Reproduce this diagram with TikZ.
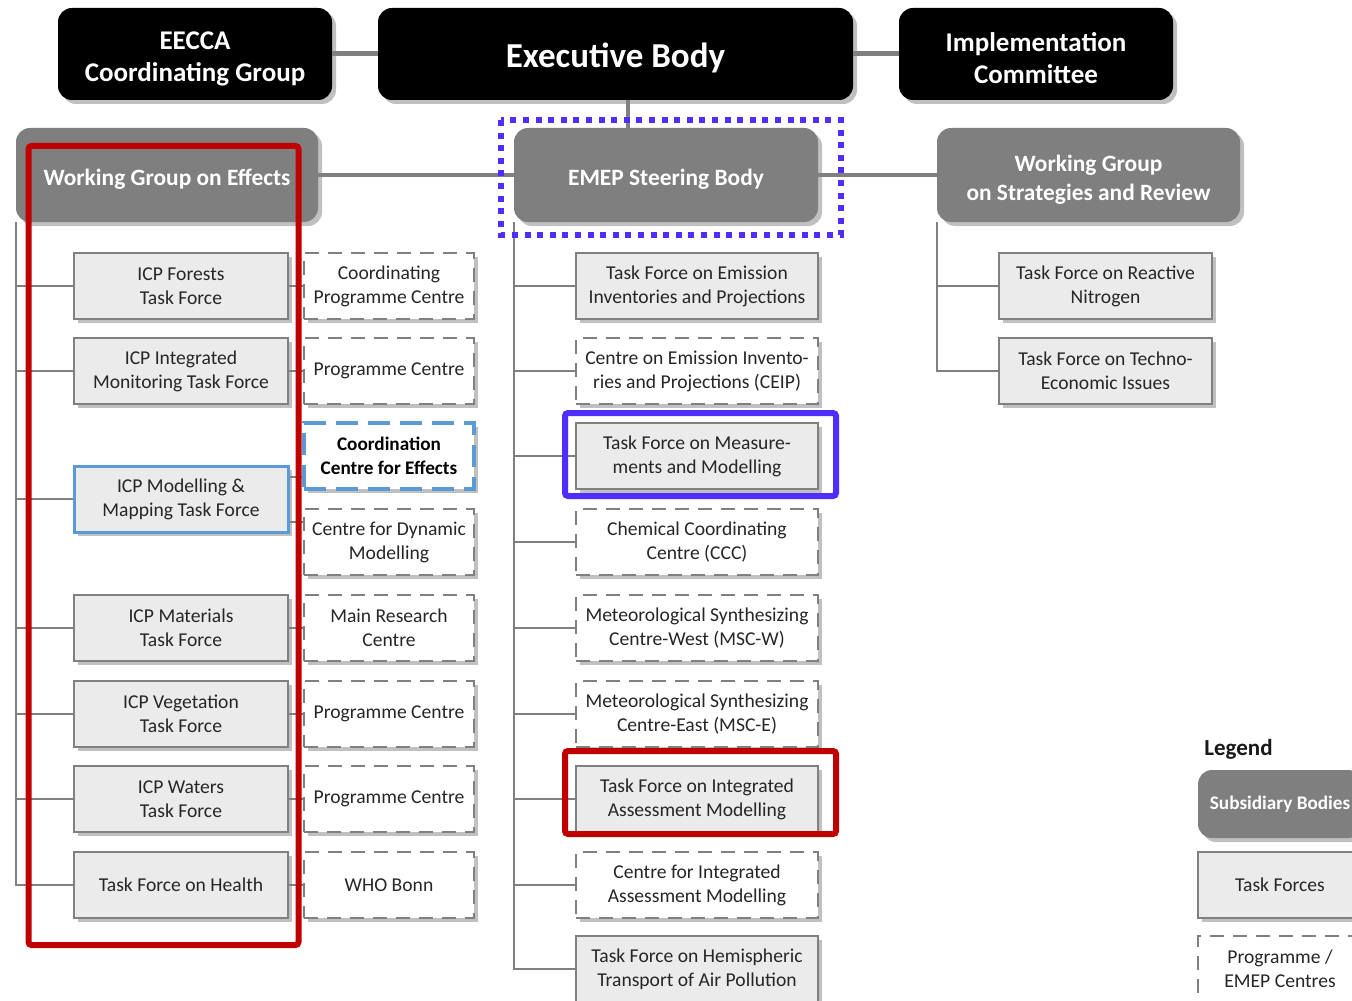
\documentclass[tikz,border=0pt]{standalone}
\usepackage{fontspec}
\setmainfont{Carlito}
\usetikzlibrary{shadows}
\definecolor{subg}{HTML}{7F7F7F}
\definecolor{tff}{HTML}{EBEBEB}
\definecolor{brd}{HTML}{808080}
\definecolor{txt}{HTML}{262626}
\definecolor{lblue}{HTML}{5B9BD5}
\definecolor{vio}{HTML}{4F2DFF}
\definecolor{rred}{HTML}{C00000}
\definecolor{lnc}{HTML}{808080}
\newcommand\upstrut[1]{\rule{0pt}{#1}}
\tikzset{
  shd/.style={drop shadow={shadow xshift=2pt, shadow yshift=-2pt, opacity=0.35, fill=black!70}},
  topbox/.style={shd, fill=black, rounded corners=7pt, text=white, align=center, inner sep=0pt,
    minimum width=137pt, minimum height=46pt, font=\bfseries\fontsize{13.5}{16}\selectfont},
  subbox/.style={shd, fill=subg, rounded corners=7pt, text=white, align=center, inner sep=0pt,
    minimum height=47pt, font=\bfseries\fontsize{11.7}{14.5}\selectfont},
  tfbox/.style={shd, fill=tff, draw=brd, line width=1pt, text=txt, align=center, inner sep=0pt,
    minimum height=33pt, font=\fontsize{9.8}{12}\selectfont},
  cbox/.style={shd, fill=white, draw=brd, line width=1pt, dash pattern=on 7pt off 4.5pt, text=txt,
    align=center, inner sep=0pt, minimum height=33pt, font=\fontsize{9.8}{12}\selectfont},
  lower/.style={execute at begin node={\rule{0pt}{#1}}},
  lcol/.style={minimum width=107pt},
  ccol/.style={minimum width=85pt},
  mcol/.style={minimum width=121pt},
  rcol/.style={minimum width=106.5pt},
  gcol/.style={minimum width=82pt},
  topline/.style={draw=lnc, line width=2.5pt},
  wgline/.style={draw=lnc, line width=2pt},
  tree/.style={draw=lnc, line width=1pt},
  frame/.style={line width=3pt, rounded corners=1.5pt},
}
\begin{document}
\begin{tikzpicture}[x=0.5pt, y=-0.5pt]
\path[use as bounding box, clip] (0,0) rectangle (1352,1000);
\fill[white] (0,0) rectangle (1352,1000);

% top level
\node[topbox] (eecca) at (195,54) {\upstrut{13.5pt}EECCA\\Coordinating Group};
\node[topbox, lower=16pt, minimum width=237.5pt, font=\bfseries\fontsize{17.5}{20}\selectfont] (exec) at (615.5,54) {Executive Body};
\node[topbox] (impl) at (1036,54) {\upstrut{13.5pt}Implementation\\Committee};

% subsidiary bodies
\node[subbox, lower=12.5pt, minimum width=151pt] (wge) at (167,175) {Working Group on Effects};
\node[subbox, lower=12.5pt, minimum width=152pt] (emep) at (666,175) {EMEP Steering Body};
\node[subbox, minimum width=151.5pt] (wgsr) at (1088.5,175) {\upstrut{12.5pt}Working Group\\on Strategies and Review};

% left task forces
\node[tfbox, lcol] (l1) at (181,286) {ICP Forests\\Task Force};
\node[tfbox, lcol] (l2) at (181,371) {ICP Integrated\\Monitoring Task Force};
\node[tfbox, lcol, draw=lblue, line width=1.5pt] (l3) at (181,499) {ICP Modelling \&\\Mapping Task Force};
\node[tfbox, lcol] (l4) at (181,628) {ICP Materials\\Task Force};
\node[tfbox, lcol] (l5) at (181,714) {ICP Vegetation\\Task Force};
\node[tfbox, lcol] (l6) at (181,799) {ICP Waters\\Task Force};
\node[tfbox, lcol] (l7) at (181,885) {Task Force on Health};

% left centres
\node[cbox, ccol] (c1) at (389,286) {Coordinating\\Programme Centre};
\node[cbox, ccol] (c2) at (389,371) {Programme Centre};
\node[cbox, ccol, draw=lblue, line width=1.6pt, dash pattern=on 11pt off 5pt, text=black, font=\bfseries\fontsize{9.6}{12}\selectfont] (c3) at (389,456) {Coordination\\Centre for Effects};
\node[cbox, ccol] (c4) at (389,542) {Centre for Dynamic\\Modelling};
\node[cbox, ccol] (c5) at (389,628) {Main Research\\Centre};
\node[cbox, ccol] (c6) at (389,714) {Programme Centre};
\node[cbox, ccol] (c7) at (389,799) {Programme Centre};
\node[cbox, ccol] (c8) at (389,885) {WHO Bonn};

% middle column
\node[tfbox, mcol] (m1) at (697,286) {Task Force on Emission\\Inventories and Projections};
\node[cbox, mcol] (m2) at (697,371) {Centre on Emission Invento-\\ries and Projections (CEIP)};
\node[tfbox, mcol] (m3) at (697,456) {Task Force on Measure-\\ments and Modelling};
\node[cbox, mcol] (m4) at (697,542) {Chemical Coordinating\\Centre (CCC)};
\node[cbox, mcol] (m5) at (697,628) {Meteorological Synthesizing\\Centre-West (MSC-W)};
\node[cbox, mcol] (m6) at (697,714) {Meteorological Synthesizing\\Centre-East (MSC-E)};
\node[tfbox, mcol] (m7) at (697,799) {Task Force on Integrated\\Assessment Modelling};
\node[cbox, mcol] (m8) at (697,885) {Centre for Integrated\\Assessment Modelling};
\node[tfbox, mcol] (m9) at (697,969) {Task Force on Hemispheric\\Transport of Air Pollution};

% right column
\node[tfbox, rcol] (r1) at (1105.5,286) {Task Force on Reactive\\Nitrogen};
\node[tfbox, rcol] (r2) at (1105.5,371) {Task Force on Techno-\\Economic Issues};

% legend
\node[anchor=west, inner sep=0pt, text=black!90, font=\bfseries\fontsize{11.5}{14}\selectfont] (legt) at (1204,749) {Legend};
\node[subbox, gcol, minimum height=34pt, font=\bfseries\fontsize{9.6}{12}\selectfont] (lg1) at (1280,804) {Subsidiary Bodies};
\node[tfbox, gcol] (lg2) at (1280,885) {Task Forces};
\node[cbox, gcol] (lg3) at (1280,969) {Programme /\\EMEP Centres};

% connectors top
\draw[topline] (eecca.east) -- (exec.west);
\draw[topline] (exec.east) -- (impl.west);
\coordinate (vtop) at (628,128);
\draw[draw=lnc, line width=1.6pt] (exec.south -| vtop) -- (vtop);
\draw[wgline] (wge.east) -- (emep.west);
\draw[wgline] (emep.east) -- (wgsr.west);

% trees
\foreach \n in {l1,l2,l3,l4,l5,l6,l7}
  \draw[tree] (wge.south west) |- (\n.west);
\foreach \n in {m1,m2,m3,m4,m5,m6,m7,m8,m9}
  \draw[tree] (emep.south west) |- (\n.west);
\foreach \n in {r1,r2}
  \draw[tree] (wgsr.south west) |- (\n.west);

% task force to centre links
\draw[tree] (l1.east) -- (c1.west);
\draw[tree] (l2.east) -- (c2.west);
\draw[tree] ([yshift=11pt]l3.east) -- ([yshift=11pt]l3.east -| c3.west);
\draw[tree] ([yshift=-11.5pt]l3.east) -- ([yshift=-11.5pt]l3.east -| c4.west);
\draw[tree] (l4.east) -- (c5.west);
\draw[tree] (l5.east) -- (c6.west);
\draw[tree] (l6.east) -- (c7.west);
\draw[tree] (l7.east) -- (c8.west);

% highlight frames
\draw[frame, rred] (28.5,146) rectangle (298.5,945);
\draw[vio, line width=2.8pt, dash pattern=on 3pt off 3.3pt] (501,120) rectangle (841,235);
\draw[frame, vio] (565,413) rectangle (836,496);
\draw[frame, rred] (565,751) rectangle (836,834);
\end{tikzpicture}
\end{document}
